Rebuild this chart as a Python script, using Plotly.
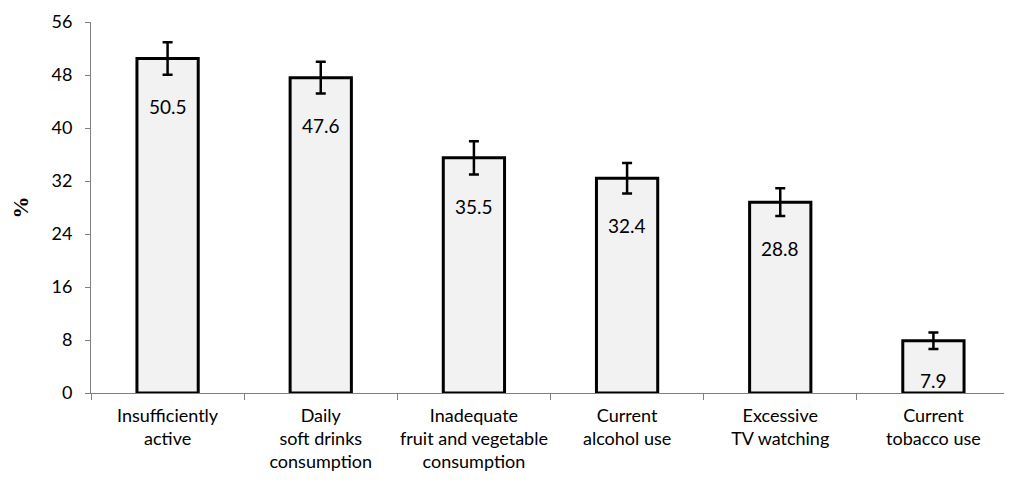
import plotly.graph_objects as go

# Risk behaviours (%), with error half-widths
categories = [
    "Insufficiently<br>active",
    "Daily<br>soft drinks<br>consumption",
    "Inadequate<br>fruit and vegetable<br>consumption",
    "Current<br>alcohol use",
    "Excessive<br>TV watching",
    "Current<br>tobacco use",
]
values = [50.5, 47.6, 35.5, 32.4, 28.8, 7.9]
errors = [2.45, 2.4, 2.5, 2.3, 2.1, 1.25]
y_ticks = [0, 8, 16, 24, 32, 40, 48, 56]

fig = go.Figure()
fig.add_trace(go.Bar(
    x=categories,
    y=values,
    width=0.4,
    marker=dict(color="#f2f2f2", line=dict(color="black", width=3)),
    error_y=dict(type="data", array=errors, visible=True,
                 color="black", thickness=2.5, width=5),
    hoverinfo="skip",
))

# value labels sit just under the lower end of each error bar
for c, v, e in zip(categories, values, errors):
    fig.add_annotation(x=c, y=v - e, text=f"{v}", showarrow=False,
                       yshift=-32, font=dict(size=19, color="#000"))

# page body has an 8px margin, so the figure is sized to fit the window
fig.update_layout(
    width=1004, height=479,
    margin=dict(l=82, r=2, t=8, b=94),
    plot_bgcolor="white", paper_bgcolor="white",
    showlegend=False,
    font=dict(family="Lato, Open Sans, sans-serif", size=18, color="#000"),
)
fig.update_xaxes(
    showline=True, linecolor="#808080", linewidth=1,
    ticks="outside", tickson="boundaries", ticklen=6, tickcolor="#808080",
    showgrid=False, tickfont=dict(size=18), tickangle=0,
    ticklabelstandoff=6,
)
fig.update_yaxes(
    range=[0, 56], tickvals=y_ticks,
    showline=True, linecolor="#808080", linewidth=1,
    ticks="outside", ticklen=5, tickcolor="#808080",
    showgrid=False, zeroline=False, tickfont=dict(size=18),
    ticklabeloverflow="allow", ticklabelstandoff=9,
    title=dict(text="<b>%</b>", font=dict(family="Liberation Serif, serif", size=22),
               standoff=26),
)

fig.write_html("out.html")
